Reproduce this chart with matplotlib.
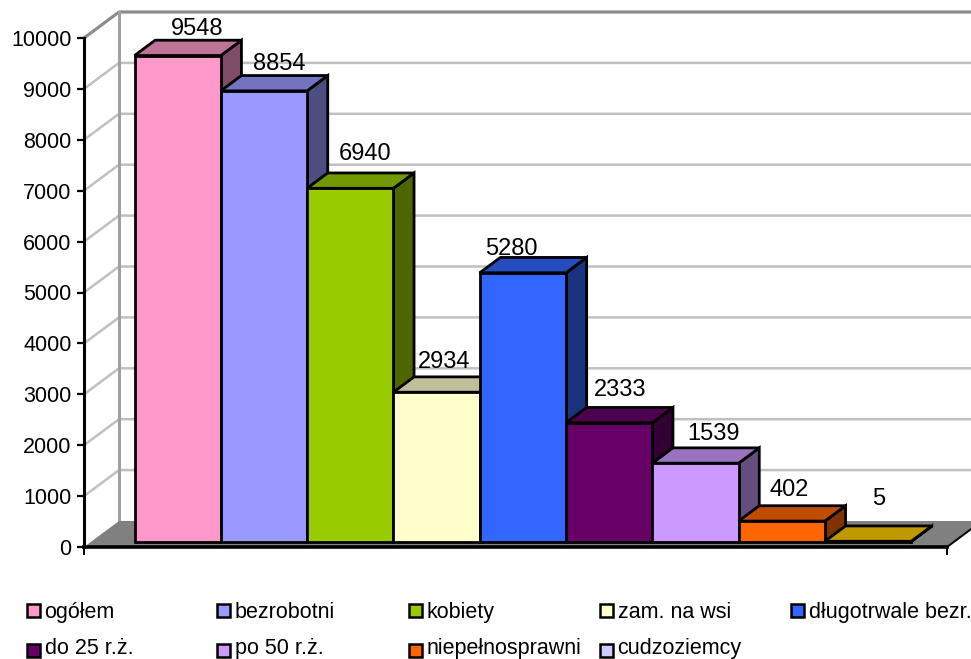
import matplotlib
matplotlib.use("Agg")
import matplotlib.pyplot as plt
from matplotlib.patches import Polygon, Rectangle

plt.rcParams["font.family"] = ["Liberation Sans", "DejaVu Sans"]

categories = ["ogółem", "bezrobotni", "kobiety", "zam. na wsi", "długotrwale bezr.",
              "do 25 r.ż.", "po 50 r.ż.", "niepełnosprawni", "cudzoziemcy"]
values = [9548, 8854, 6940, 2934, 5280, 2333, 1539, 402, 5]
y_ticks = [0, 1000, 2000, 3000, 4000, 5000, 6000, 7000, 8000, 9000, 10000]

bar_colors = ["#FF99CC", "#9999FF", "#99CC00", "#FFFFCC", "#3366FF",
              "#660066", "#CC99FF", "#FF6600", "#FFCC00"]
legend_colors = ["#FF99CC", "#9999FF", "#99CC00", "#FFFFCC", "#3366FF",
                 "#660066", "#CC99FF", "#FF6600", "#CCCCFF"]

# label nudges in pixels from the centre of the bar top, excel placed them unevenly
label_dx = [-1, -5, -6, -13, -32, -10, -3, -13, -10]
label_dy = [0, 1, 8, 4, -3, 6, 3, 5, 16]

W, H = 971, 659
fig = plt.figure(figsize=(W / 100, H / 100), dpi=100)
# axes box is the front plane of the 3d chart
LEFT, RIGHT, BOTTOM, TOP = 84, 947, 547, 38
ax = fig.add_axes([LEFT / W, 1 - BOTTOM / H, (RIGHT - LEFT) / W, (BOTTOM - TOP) / H])
ax.set_xlim(-1, 9)
ax.set_ylim(0, 10000)
ax.patch.set_visible(False)
for s in ax.spines.values():
    s.set_visible(False)

DEPTH_X = 35 * 10 / (RIGHT - LEFT)
DEPTH_Y = 26 * 10000 / (BOTTOM - TOP)


def proj(x, v, d):
    return (x + d * DEPTH_X, v + d * DEPTH_Y)


def face(points, color, lw=2.0, edge="black", zorder=3):
    ax.add_patch(Polygon(points, closed=True, facecolor=color, edgecolor=edge,
                         linewidth=lw, zorder=zorder, clip_on=False, joinstyle="miter"))


def shade(color, k):
    r, g, b = matplotlib.colors.to_rgb(color)
    return (r * k, g * k, b * k)


# walls
x0, x1 = ax.get_xlim()
for t in y_ticks[1:]:
    ax.plot([x0, proj(x0, t, 1)[0], proj(x1, t, 1)[0]], [t, proj(x0, t, 1)[1], proj(x1, t, 1)[1]],
            color="#C0C0C0", lw=1.8, zorder=1, clip_on=False)
ax.plot([x0, proj(x0, 10000, 1)[0], proj(x1, 10000, 1)[0]],
        [10000, proj(x0, 10000, 1)[1], proj(x1, 10000, 1)[1]],
        color="#8C8C8C", lw=2.2, zorder=1, clip_on=False)
ax.plot([proj(x0, 0, 1)[0], proj(x0, 10000, 1)[0]], [proj(x0, 0, 1)[1], proj(x0, 10000, 1)[1]],
        color="#A0A0A0", lw=2.2, zorder=1, clip_on=False)

# floor
face([proj(x0, 0, 0), proj(x1, 0, 0), proj(x1, 0, 1), proj(x0, 0, 1)], "#808080", lw=0, edge="none", zorder=2)
ax.plot([x1, proj(x1, 0, 1)[0]], [0, proj(x1, 0, 1)[1]], color="black", lw=1.4, zorder=2, clip_on=False)

# bars, drawn left to right so the next front covers the previous side
D0, D1 = 0.21, 0.8
for i, (v, c) in enumerate(zip(values, bar_colors)):
    l, r = i - 0.5, i + 0.5
    face([proj(r, 0, D0), proj(r, 0, D1), proj(r, v, D1), proj(r, v, D0)], shade(c, 0.5), zorder=3 + i)
    face([proj(l, v, D0), proj(r, v, D0), proj(r, v, D1), proj(l, v, D1)], shade(c, 0.75), zorder=3 + i)
    face([proj(l, 0, D0), proj(r, 0, D0), proj(r, v, D0), proj(l, v, D0)], c, zorder=3 + i)
    cx, cy = proj(i, v, D1)
    ax.annotate(str(v), (cx, cy), xytext=(label_dx[i] * 0.72, label_dy[i] * 0.72),
                textcoords="offset points", ha="center", va="bottom",
                fontsize=17, color="black", zorder=30, annotation_clip=False)

# axes lines and ticks
ax.plot([x0, x0], [0, 10000], color="black", lw=2.2, zorder=20, clip_on=False)
ax.plot([x0, x1], [0, 0], color="black", lw=2.6, zorder=20, clip_on=False)
ax.set_yticks(y_ticks)
ax.set_xticks([x0, x1])
ax.set_xticklabels([])
ax.tick_params(axis="y", length=5, width=1.6, labelsize=15.5, pad=4)
ax.tick_params(axis="x", length=6, width=1.4)

# legend
legend_x = [26.5, 217, 408.5, 599.5, 790.5]
legend_y = [610.5, 650.5]
legend_base = [618, 654]
for i, (name, c) in enumerate(zip(categories, legend_colors)):
    col, row = (i, 0) if i < 5 else (i - 5, 1)
    px, py = legend_x[col], legend_y[row]
    fig.add_artist(Rectangle((px / W, 1 - (py + 6.5) / H), 13 / W, 13 / H, transform=fig.transFigure,
                             facecolor=c, edgecolor="black", linewidth=1.8))
    fig.text((px + 18) / W, 1 - legend_base[row] / H, name, fontsize=15.5, ha="left", va="baseline", color="black")

fig.savefig("out.png", dpi=100)
